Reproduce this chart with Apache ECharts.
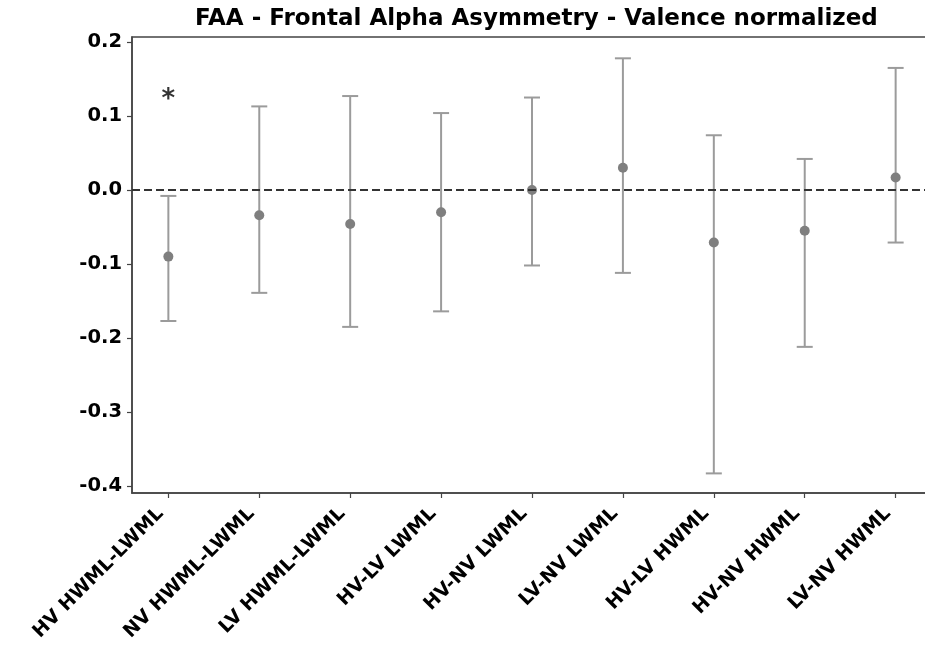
<!DOCTYPE html>
<html>
<head>
<meta charset="utf-8">
<script src="https://cdn.jsdelivr.net/npm/echarts@6/dist/echarts.min.js"></script>
<style>
html,body{margin:0;padding:0;background:#fff;}
#chart{width:925px;height:646px;}
</style>
</head>
<body>
<div id="chart"></div>
<script>
const categories = ['HV HWML-LWML','NV HWML-LWML','LV HWML-LWML','HV-LV LWML','HV-NV LWML','LV-NV LWML','HV-LV HWML','HV-NV HWML','LV-NV HWML'];
const means = [-0.090, -0.034, -0.046, -0.030, 0.000, 0.030, -0.071, -0.055, 0.017];
const upper = [-0.008, 0.113, 0.127, 0.104, 0.125, 0.178, 0.074, 0.042, 0.165];
const lower = [-0.177, -0.139, -0.185, -0.164, -0.102, -0.112, -0.383, -0.212, -0.071];
const yTicks = [-0.4, -0.3, -0.2, -0.1, 0.0, 0.1, 0.2];
const xTicks = categories.map((c, i) => i);
const sigCategory = 'HV HWML-LWML';
const sigValue = 0.121;
const sigLabel = '*';

const FONT = 'DejaVu Sans';
const chart = echarts.init(document.getElementById('chart'), null, {renderer: 'canvas'});

const errData = categories.map((c, i) => [i, lower[i], upper[i]]);

chart.setOption({
  backgroundColor: '#ffffff',
  animation: false,
  title: {
    text: 'FAA - Frontal Alpha Asymmetry - Valence normalized',
    left: 190, top: 3,
    textStyle: {fontFamily: FONT, fontWeight: 'bold', fontSize: 23, color: '#000'}
  },
  grid: {left: 132, top: 37, width: 800, height: 456, outerBoundsMode: 'none', containLabel: false,
    show: true, borderColor: '#444', borderWidth: 1.5, backgroundColor: 'transparent'},
  xAxis: {
    type: 'value', min: -0.4, max: 8.4,
    axisLine: {show: true, onZero: false, lineStyle: {color: '#444', width: 1.5}},
    axisTick: {show: true, length: 5, customValues: xTicks, lineStyle: {color: '#444', width: 1.2}},
    axisLabel: {customValues: xTicks, rotate: 45, margin: 10, padding: [0, 11, 0, 0], fontFamily: FONT, fontWeight: 'bold', fontSize: 19, color: '#000',
      formatter: v => categories[Math.round(v)]},
    splitLine: {show: false}
  },
  yAxis: {
    type: 'value', min: -0.4095, max: 0.2068,
    axisLine: {show: true, onZero: false, lineStyle: {color: '#444', width: 1.5}},
    axisTick: {show: true, length: 5, customValues: yTicks, lineStyle: {color: '#444', width: 1.2}},
    axisLabel: {customValues: yTicks, margin: 10, fontFamily: FONT, fontWeight: 'bold', fontSize: 19.5, color: '#000',
      formatter: v => v.toFixed(1)},
    splitLine: {show: false}
  },
  series: [
    {
      type: 'custom',
      data: errData,
      z: 2,
      renderItem: function (params, api) {
        const x = api.value(0);
        const lo = api.coord([x, api.value(1)]);
        const hi = api.coord([x, api.value(2)]);
        const cap = 8;
        const style = {stroke: '#9b9b9b', lineWidth: 2};
        return {
          type: 'group',
          children: [
            {type: 'line', shape: {x1: lo[0], y1: lo[1], x2: hi[0], y2: hi[1]}, style: style},
            {type: 'line', shape: {x1: lo[0] - cap, y1: lo[1], x2: lo[0] + cap, y2: lo[1]}, style: style},
            {type: 'line', shape: {x1: hi[0] - cap, y1: hi[1], x2: hi[0] + cap, y2: hi[1]}, style: style}
          ]
        };
      }
    },
    {
      type: 'scatter',
      data: means.map((m, i) => [i, m]),
      symbol: 'circle', symbolSize: 10,
      itemStyle: {color: '#7f7f7f', opacity: 1},
      z: 3,
      markLine: {
        silent: true, symbol: 'none',
        label: {show: false},
        lineStyle: {color: '#333333', type: [8, 4], width: 2, opacity: 1},
        emphasis: {disabled: true},
        data: [{yAxis: 0}]
      }
    },
    {
      type: 'scatter',
      data: [[categories.indexOf(sigCategory), sigValue]],
      symbolSize: 0,
      z: 4,
      label: {show: true, position: 'inside', formatter: sigLabel, fontFamily: FONT, fontWeight: 'bold', fontSize: 26, color: '#000'}
    }
  ]
});
</script>
</body>
</html>
